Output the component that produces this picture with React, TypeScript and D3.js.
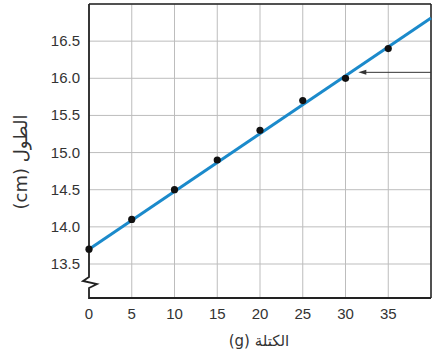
import React from 'react';
import * as d3 from 'd3';

// mass (g) and length (cm)
const masses = [0, 5, 10, 15, 20, 25, 30, 35];
const lengths = [13.7, 14.1, 14.5, 14.9, 15.3, 15.7, 16.0, 16.4];
const xTicks = [0, 5, 10, 15, 20, 25, 30, 35];
const yTicks = [13.5, 14.0, 14.5, 15.0, 15.5, 16.0, 16.5];
const xGrid = [5, 10, 15, 20, 25, 30, 35, 40];
const yGrid = [13.5, 14.0, 14.5, 15.0, 15.5, 16.0, 16.5, 17.0];
// fitted line end points
const fitLine = [
  { x: 0, y: 13.7 },
  { x: 40, y: 16.81 },
];
// arrow pointing to the line
const arrow = { fromX: 40, toX: 31.5, y: 16.08 };

const xLabel = 'الكتلة (g)';
const yLabel = 'الطول (cm)';

const App = () => {
  const W = 432;
  const H = 356;
  const left = 89;
  const right = 431;
  const top = 4;
  const bottom = 298;

  const x = d3.scaleLinear().domain([0, 40]).range([left, right]);
  const y = d3.scaleLinear().domain([13.5, 17]).range([264, top]);

  const line = d3
    .line<{ x: number; y: number }>()
    .x(d => x(d.x))
    .y(d => y(d.y));

  // y axis with the break zigzag, then the bottom axis
  const axisPath = d3.path();
  axisPath.moveTo(left, top);
  axisPath.lineTo(left, 277);
  axisPath.lineTo(83, 281);
  axisPath.lineTo(97, 284);
  axisPath.lineTo(left, 288);
  axisPath.lineTo(left, bottom);
  axisPath.lineTo(right, bottom);

  const tickFont = '"Liberation Sans", Arial, sans-serif';

  return (
    <svg
      width={W}
      height={H}
      style={{ position: 'fixed', left: 0, top: 0, background: '#fff' }}
    >
      {/* grid */}
      {xGrid.map(v => (
        <line key={'gx' + v} x1={x(v)} x2={x(v)} y1={top} y2={bottom} stroke="#bdbdbd" strokeWidth={1} />
      ))}
      {yGrid.map(v => (
        <line key={'gy' + v} x1={left} x2={right} y1={y(v)} y2={y(v)} stroke="#bdbdbd" strokeWidth={1} />
      ))}
      {/* frame */}
      <line x1={left} x2={right} y1={top} y2={top} stroke="#222" strokeWidth={1.5} />
      <line x1={right} x2={right} y1={top} y2={bottom} stroke="#222" strokeWidth={1.5} />
      <path d={axisPath.toString()} fill="none" stroke="#222" strokeWidth={1.8} />

      {/* fitted line */}
      <path d={line(fitLine) || ''} fill="none" stroke="#1b8acb" strokeWidth={3} />

      {/* points */}
      {masses.map((m, i) => (
        <circle key={'p' + i} cx={x(m)} cy={y(lengths[i])} r={3.6} fill="#111" />
      ))}

      {/* arrow */}
      <line x1={x(arrow.fromX)} x2={x(arrow.toX) + 6} y1={y(arrow.y)} y2={y(arrow.y)} stroke="#333" strokeWidth={1} />
      <path
        d={`M${x(arrow.toX)},${y(arrow.y)} L${x(arrow.toX) + 8},${y(arrow.y) - 2.5} L${x(arrow.toX) + 8},${y(arrow.y) + 2.5} Z`}
        fill="#333"
      />

      {/* x ticks */}
      {xTicks.map(v => (
        <text key={'tx' + v} x={x(v)} y={319} textAnchor="middle" fontFamily={tickFont} fontSize={15} fill="#333">
          {v}
        </text>
      ))}
      {/* y ticks */}
      {yTicks.map(v => (
        <text key={'ty' + v} x={80} y={y(v) + 5} textAnchor="end" fontFamily={tickFont} fontSize={15} fill="#333">
          {v.toFixed(1)}
        </text>
      ))}

      {/* axis titles */}
      <text x={259} y={346} textAnchor="middle" direction="rtl" fontFamily='"DejaVu Sans", sans-serif' fontSize={15} fill="#333">
        {xLabel}
      </text>
      <text
        transform="translate(27,162) rotate(-90)"
        textAnchor="middle"
        direction="rtl"
        fontFamily='"DejaVu Sans", sans-serif'
        fontSize={18}
        fill="#333"
      >
        {yLabel}
      </text>
    </svg>
  );
};

export default App;
